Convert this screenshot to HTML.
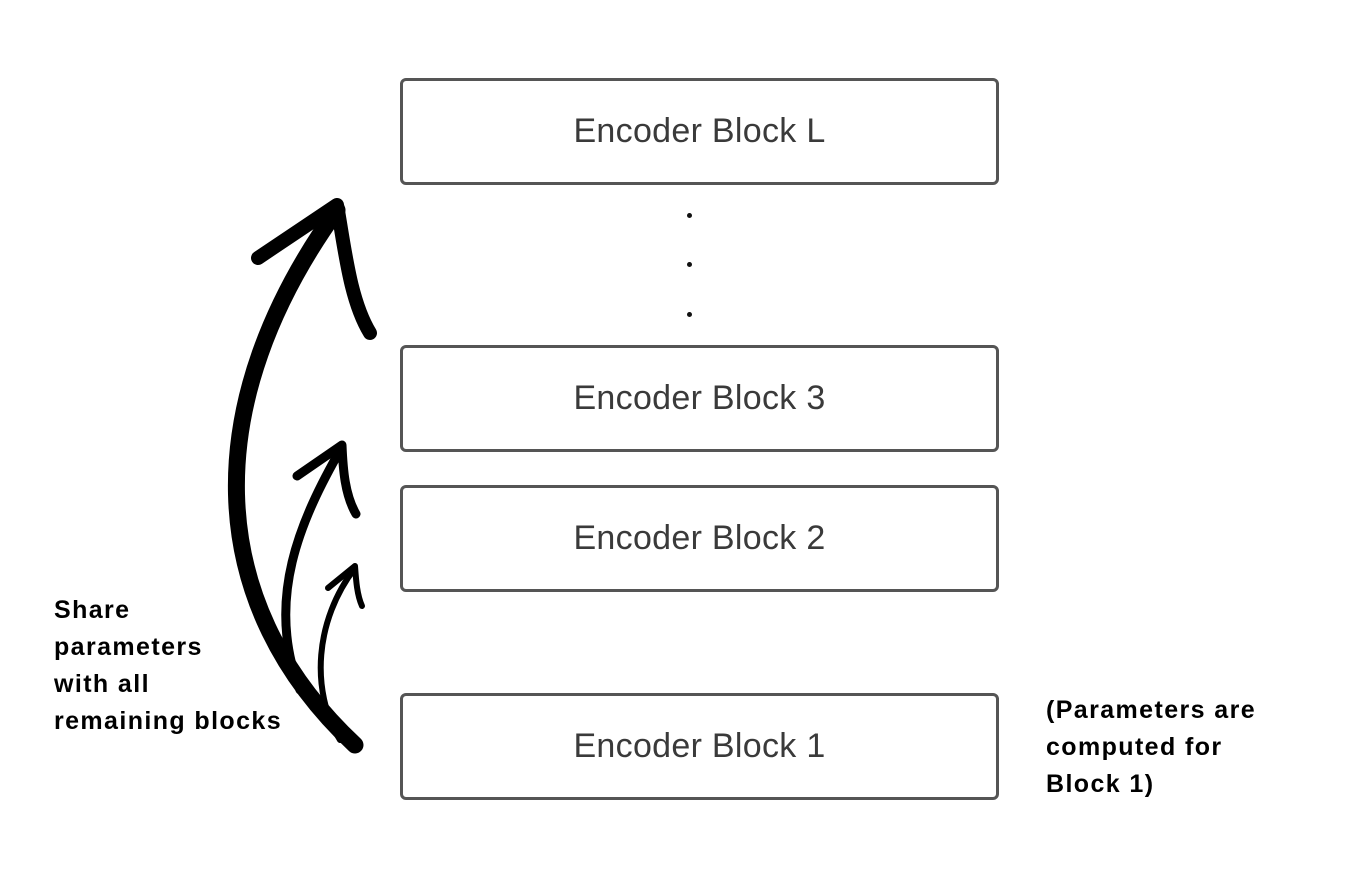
<!DOCTYPE html>
<html><head><style>
body{margin:0;background:#fff;width:1347px;height:873px;position:relative;overflow:hidden;font-family:"Liberation Sans",sans-serif}
.b{position:absolute;left:400px;width:593px;height:101px;border:3px solid #555;border-radius:6px;display:flex;align-items:center;justify-content:center;font-size:34px;color:#3a3a3a;letter-spacing:0.3px}
.t{position:absolute;font-weight:bold;font-size:25px;line-height:37px;color:#000;letter-spacing:1.4px;white-space:nowrap}
.d{position:absolute;left:687px;width:5px;height:5px;border-radius:50%;background:#111}
</style></head><body>
<div class="b" style="top:78px">Encoder Block L</div>
<div class="b" style="top:345px">Encoder Block 3</div>
<div class="b" style="top:485px">Encoder Block 2</div>
<div class="b" style="top:693px">Encoder Block 1</div>
<div class="d" style="top:213px"></div>
<div class="d" style="top:262px"></div>
<div class="d" style="top:312px"></div>
<div class="t" style="left:54px;top:592px">Share<br>parameters<br>with all<br>remaining blocks</div>
<div class="t" style="left:1046px;top:692px">(Parameters are<br>computed for<br>Block 1)</div>
<svg width="1347" height="873" style="position:absolute;left:0;top:0" fill="none" stroke="#000" stroke-linecap="round" stroke-linejoin="round">
<path d="M355 745 C200 600 200 400 337 210" stroke-width="17"/>
<path d="M337 205 L258 258 M337 205 C345 250 350 300 370 333" stroke-width="14"/>
<path d="M300 690 C265 600 300 520 342 447" stroke-width="9"/>
<path d="M342 445 L297 476 M342 445 C343 470 345 495 356 514" stroke-width="9"/>
<path d="M340 740 C310 690 315 620 355 568" stroke-width="6"/>
<path d="M355 566 L328 588 M355 566 C356 580 357 595 362 606" stroke-width="6"/>
</svg>
</body></html>
